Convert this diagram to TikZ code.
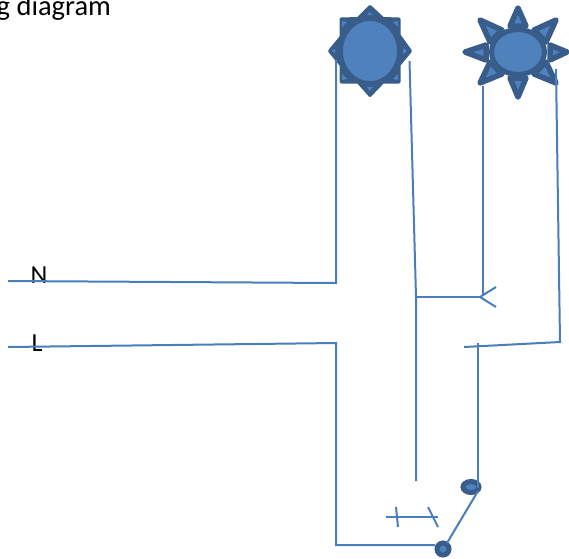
\documentclass[tikz,border=0pt]{standalone}
\usepackage{fontspec}
\setmainfont{Carlito}
\usetikzlibrary{shapes.geometric}
\definecolor{wireblue}{HTML}{4A7EBB}
\definecolor{sundark}{HTML}{385D8A}
\definecolor{sunlight}{HTML}{4F81BD}
\tikzset{
  wire/.style={draw=wireblue,line width=2pt,line cap=butt,line join=miter},
  lbl/.style={font=\fontsize{26}{26}\selectfont,inner sep=0pt,anchor=base,text=black},
  ray/.style={draw=sundark,fill=sunlight,line width=5.5pt,line join=round},
  hub/.style={ellipse,draw=sundark,fill=sunlight,inner sep=0pt},
  contact/.style={ellipse,draw=sundark,fill=sunlight,inner sep=0pt}
}
\begin{document}
\begin{tikzpicture}[x=1pt,y=-1pt]
\useasboundingbox (0,0) rectangle (569,558);
\clip (0,0) rectangle (569,558);
% texts
\node[lbl,anchor=base west,font=\fontsize{28.5}{28.5}\selectfont] (title) at (-3.5,15.5) {g diagram};
\node[lbl] (nlabel) at (39,283.5) {N};
\node[lbl] (llabel) at (37,351.5) {L};
% left lamp
\filldraw[fill=sundark,draw=sundark,line width=3pt,line join=round]
 (370,6.5) -- (383,18.5) -- (399,19) -- (399,35) -- (410.5,51) -- (399,65) -- (399,82) -- (383,82)
 -- (370,95.5) -- (358,82) -- (341,82) -- (341,65) -- (329.5,51) -- (341,37) -- (341,19) -- (358,18.5) -- cycle;
\fill[sunlight] (369.5,12) -- (367,15) -- (373,15) -- cycle
 (403,48) -- (403,54) -- (407,51) -- cycle
 (335,48.5) -- (335,53) -- (331.5,51) -- cycle
 (367,87) -- (373,87) -- (369.5,91) -- cycle
 (398,21) -- (393,22) -- (398,27) -- cycle
 (342,21) -- (347,22) -- (342,27) -- cycle
 (398,80) -- (393,79) -- (398,74) -- cycle
 (342,80) -- (347,79) -- (342,74) -- cycle;
\node[hub,minimum width=55pt,minimum height=61pt,line width=0.8pt] (lampA) at (370,51) {};
% right lamp
\draw[ray] (518,8) -- (510,26) -- (526,26) -- cycle;
\draw[ray] (567,52) -- (550,45) -- (550,60) -- cycle;
\draw[ray] (465,52) -- (486,45) -- (486,60) -- cycle;
\draw[ray] (518,97) -- (510,78) -- (526,78) -- cycle;
\draw[ray] (556,20) -- (534,30) -- (546,42) -- cycle;
\draw[ray] (480,20) -- (502,30) -- (490,42) -- cycle;
\draw[ray] (556,83) -- (534,74) -- (546,62) -- cycle;
\draw[ray] (480,83) -- (502,74) -- (490,62) -- cycle;
\node[hub,minimum width=53pt,minimum height=45pt,line width=5pt] (lampB) at (518,52) {};
% terminals
\node[contact,minimum width=16pt,minimum height=11pt,line width=5pt] (contactA) at (471,487) {};
\node[contact,minimum width=12pt,minimum height=12pt,line width=5pt] (contactB) at (443,549) {};
% named wire ends
\coordinate (nStart) at (8,281);
\coordinate (nCorner) at (336,283);
\coordinate (lampAleft) at (336,60);
\coordinate (lStart) at (8,347);
\coordinate (lCorner) at (336,343);
\coordinate (lBottom) at (336,545);
\coordinate (lEnd) at (435,545);
\coordinate (lampAright) at (409.5,61);
\coordinate (busEnd) at (416,481);
\coordinate (busTap) at (416,297);
\coordinate (fork) at (480,297);
\coordinate (forkUp) at (496,287);
\coordinate (forkDown) at (496,307);
\coordinate (lampBleft) at (483,86);
\coordinate (lampBforkTop) at (483,296);
\coordinate (lampBright) at (556,69);
\coordinate (rCorner) at (560,342);
\coordinate (rEnd) at (464,347);
\coordinate (dropTop) at (478,343);
\coordinate (dropEnd) at (478,488);
\coordinate (armTop) at (478,491);
\coordinate (armEnd) at (447,543);
\coordinate (swL) at (386,517);
\coordinate (swR) at (438,517);
\coordinate (t1a) at (396,507);
\coordinate (t1b) at (398,527);
\coordinate (t2a) at (428,507);
\coordinate (t2b) at (438,527);
% wires
\draw[wire] (nStart) -- (nCorner) -- (lampAleft);
\draw[wire] (lStart) -- (lCorner) -- (lBottom) -- (lEnd);
\draw[wire] (lampAright) -- (busTap) -- (busEnd);
\draw[wire] (busTap) -- (fork);
\draw[wire] (forkUp) -- (fork) -- (forkDown);
\draw[wire] (lampBleft) -- (lampBforkTop);
\draw[wire] (lampBright) -- (rCorner) -- (rEnd);
\draw[wire] (dropTop) -- (dropEnd);
\draw[wire] (armTop) -- (armEnd);
\draw[wire] (swL) -- (swR);
\draw[wire] (t1a) -- (t1b);
\draw[wire] (t2a) -- (t2b);
\end{tikzpicture}
\end{document}
